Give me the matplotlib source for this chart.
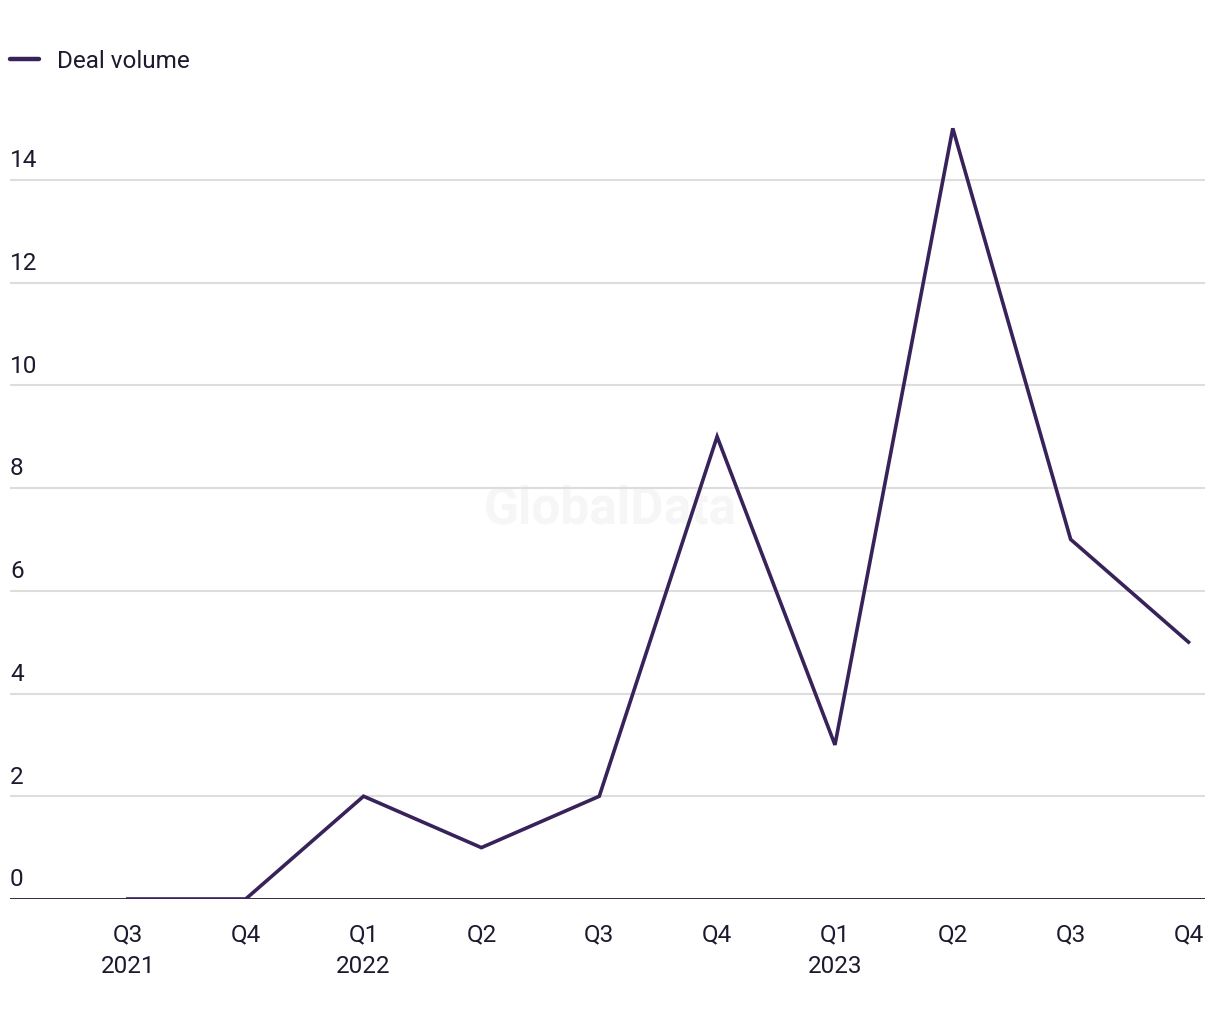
import matplotlib.pyplot as plt
from matplotlib.transforms import blended_transform_factory

quarters = ["Q3\n2021", "Q4", "Q1\n2022", "Q2", "Q3", "Q4", "Q1\n2023", "Q2", "Q3", "Q4"]
deal_volume = [0, 0, 2, 1, 2, 9, 3, 15, 7, 5]
y_ticks = [0, 2, 4, 6, 8, 10, 12, 14]

line_color = "#38225a"
text_color = "#1c1a2e"

plt.rcParams["font.family"] = ["Roboto", "DejaVu Sans"]

fig = plt.figure(figsize=(12.2, 10.2), dpi=100)
ax = fig.add_axes([10 / 1220, 1 - 900 / 1020, 1195 / 1220, (900 - 78) / 1020])

x = list(range(len(quarters)))

# watermark
ax.text(0.5, 0.5, "GlobalData", transform=fig.transFigure, ha="center", va="center",
        fontsize=37, fontweight="bold", color="#f6f6f6", zorder=0)

for t in y_ticks[1:]:
    ax.axhline(t, color="#dddddd", lw=1.5, zorder=1)
ax.axhline(0, color=text_color, lw=2, zorder=3)

ax.plot(x, deal_volume, color=line_color, lw=2.6, label="Deal volume", zorder=4,
        solid_joinstyle="miter")

ax.set_xlim(-1.0, 9.14)
ax.set_ylim(0, 16)

trans = blended_transform_factory(ax.transAxes, ax.transData)
for t in y_ticks:
    ax.text(0, t + 0.17, str(t), transform=trans, ha="left", va="bottom",
            fontsize=17.5, color=text_color)

ax.set_xticks(x)
ax.set_xticklabels(quarters, fontsize=17.5, color=text_color, linespacing=1.45)
ax.tick_params(axis="x", length=0, pad=17)
ax.set_yticks([])
for s in ax.spines.values():
    s.set_visible(False)

leg = ax.legend(loc="center left", bbox_to_anchor=(10 / 1220, 1 - 62 / 1020),
                bbox_transform=fig.transFigure, frameon=False, fontsize=17.5,
                handlelength=1.2, handletextpad=0.75, borderpad=0, borderaxespad=0)
for txt in leg.get_texts():
    txt.set_color(text_color)
for h in leg.get_lines():
    h.set_linewidth(3.2)
    h.set_solid_capstyle("round")

fig.savefig("out.png", dpi=100, facecolor="white")
